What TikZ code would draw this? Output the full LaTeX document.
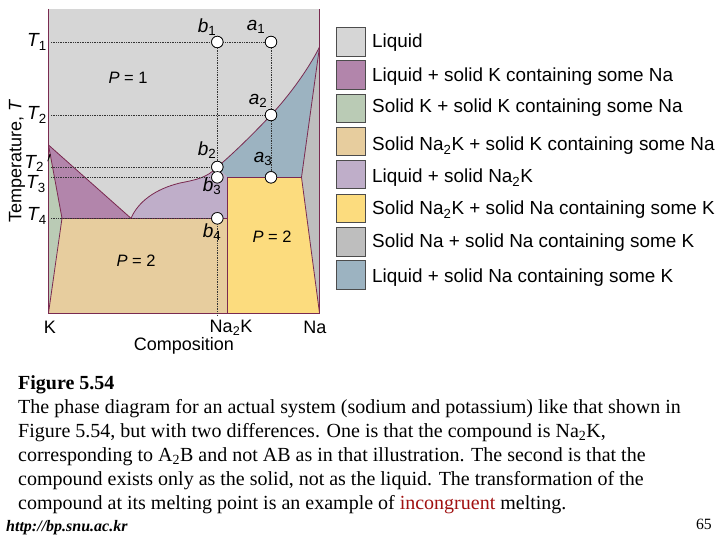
\documentclass[tikz,border=0pt]{standalone}
\usepackage{fontspec}
\setmainfont{Liberation Serif}
\newfontfamily\labelfont{Liberation Sans}
\usetikzlibrary{positioning}
\definecolor{liquidc}{HTML}{D6D6D6}
\definecolor{liqkc}{HTML}{B285AB}
\definecolor{solkc}{HTML}{BACBB5}
\definecolor{tanc}{HTML}{E7CD9E}
\definecolor{liqnakc}{HTML}{BFAEC9}
\definecolor{yellowc}{HTML}{FCDC7E}
\definecolor{solnac}{HTML}{BEBEBE}
\definecolor{liqnac}{HTML}{9CB3C1}
\definecolor{phaseline}{HTML}{7A2A50}
\definecolor{redword}{HTML}{A01010}
\tikzset{
	swatch/.style={draw=black!70,line width=0.8pt,rectangle,minimum width=29pt,minimum height=28.5pt,inner sep=0pt},
	legend/.style={anchor=west,inner sep=0pt,font=\labelfont\fontsize{18.9}{20}\selectfont},
	axis/.style={inner sep=0pt,font=\labelfont\fontsize{18}{20}\selectfont},
	count/.style={axis,font=\labelfont\fontsize{16.5}{20}\selectfont},
	temp/.style={axis,font=\labelfont\itshape\fontsize{19}{20}\selectfont},
	pt/.style={draw=black,fill=white,circle,line width=0.7pt,minimum size=11.5pt,inner sep=0pt},
	guide/.style={densely dotted,line width=0.7pt,black!80},
	phase/.style={draw=phaseline,line width=0.8pt}
}
\begin{document}
\begin{tikzpicture}[x=1pt,y=-1pt]
	\useasboundingbox (0,0) rectangle (720,540);
	% regions
	\fill[liquidc] (48.5,9) rectangle (319.5,313);
	\fill[solkc] (48.5,145) -- (62,218) -- (48.5,313) -- cycle;
	\fill[solnac] (319.5,47) -- (301.5,177.3) -- (319.5,313) -- cycle;
	\fill[liqkc] (48.5,145) -- (131,218.3) -- (62,218.3) -- cycle;
	\fill[tanc] (62,218.3) -- (227.7,218.3) -- (227.7,313) -- (48.5,313) -- cycle;
	\fill[yellowc] (227.7,177.3) -- (301.5,177.3) -- (319.5,313) -- (227.7,313) -- cycle;
	\fill[liqnakc] (131,218.3) .. controls (138,202) and (155,189) .. (180,183) .. controls (195,180) and (207,178) .. (217.3,167) -- (227.7,177.3) -- (227.7,218.3) -- cycle;
	\fill[liqnac] (319.5,47) .. controls (308,70) and (288,97) .. (271,115) .. controls (255,132) and (235,152) .. (217.3,167) -- (227.7,177.3) -- (301.5,177.3) -- cycle;
	% phase boundaries
	\draw[phase] (48.5,9) -- (48.5,313) -- (319.5,313) -- (319.5,9);
	\draw[phase] (48.5,145) -- (131,218.3);
	\draw[phase] (48.5,145) -- (62,218.3) -- (48.5,313);
	\draw[phase] (62,218.3) -- (227.7,218.3);
	\draw[phase] (227.7,177.3) -- (227.7,313);
	\draw[phase] (227.7,177.3) -- (301.5,177.3);
	\draw[phase] (319.5,47) -- (301.5,177.3) -- (319.5,313);
	\draw[phase] (131,218.3) .. controls (138,202) and (155,189) .. (180,183) .. controls (195,180) and (207,178) .. (217.3,167);
	\draw[phase] (319.5,47) .. controls (308,70) and (288,97) .. (271,115) .. controls (255,132) and (235,152) .. (217.3,167);
	% temperatures
	\node[temp] (t1) at (37,42) {T\textsubscript{\upshape 1}};
	\node[temp] (t2) at (37,115) {T\textsubscript{\upshape 2}};
	\node[temp] (t2p) at (38,163) {T\textsubscript{\upshape 2}\,$'$};
	\node[temp] (t3) at (36,184) {T\textsubscript{\upshape 3}};
	\node[temp] (t4) at (37,216) {T\textsubscript{\upshape 4}};
	% points
	\node[pt] (b1) at (217.3,42) {};
	\node[pt] (a1) at (271,42) {};
	\node[pt] (a2) at (271,115) {};
	\node[pt] (b2) at (217.3,167) {};
	\node[pt] (b3) at (217.3,177.3) {};
	\node[pt] (a3) at (271,177.3) {};
	\node[pt] (b4) at (217.3,218.3) {};
	\coordinate (c1) at (51,42);
	\coordinate (c2) at (51,115);
	\coordinate (c2p) at (51,167);
	\coordinate (c3) at (51,177.3);
	\coordinate (c4) at (51,218.3);
	\coordinate (foot) at (217.3,316);
	\draw[guide] (c1) -- (b1) -- (a1);
	\draw[guide] (c2) -- (a2);
	\draw[guide] (c2p) -- (b2);
	\draw[guide] (c3) -- (b3);
	\draw[guide] (c4) -- (b4);
	\draw[guide] (b1) -- (b2);
	\draw[guide] (b4) -- (foot);
	\draw[guide] (a1) -- (a2) -- (a3);
	\node[pt] at (b1) {};
	\node[pt] at (a1) {};
	\node[pt] at (a2) {};
	\node[pt] at (b2) {};
	\node[pt] at (b3) {};
	\node[pt] at (a3) {};
	\node[pt] at (b4) {};
	% point labels
	\node[temp] (lb1) at (207,27) {b\textsubscript{\upshape 1}};
	\node[temp] (la1) at (256,27) {a\textsubscript{\upshape 1}};
	\node[temp] (la2) at (258,101) {a\textsubscript{\upshape 2}};
	\node[temp] (lb2) at (207,150) {b\textsubscript{\upshape 2}};
	\node[temp] (la3) at (263,159) {a\textsubscript{\upshape 3}};
	\node[temp] (lb3) at (212,186) {b\textsubscript{\upshape 3}};
	\node[temp] (lb4) at (212,232) {b\textsubscript{\upshape 4}};
	% phase counts
	\node[count] (p1) at (128,78) {\textit{P} = 1};
	\node[count] (p2a) at (136,261) {\textit{P} = 2};
	\node[count] (p2b) at (272,237) {\textit{P} = 2};
	% axes
	\node[axis,rotate=90] (ylab) at (17,161) {Temperature, \textit{T}};
	\node[axis] (k) at (50,327) {K};
	\node[axis] (nak) at (231,327.5) {Na\textsubscript{2}K};
	\node[axis] (na) at (315,327) {Na};
	\node[axis] (comp) at (184,346) {Composition};
	% legend
	\node[swatch,fill=liquidc] (s1) at (350.5,41.7) {};
	\node[swatch,fill=liqkc] (s2) at (350.5,75) {};
	\node[swatch,fill=solkc] (s3) at (350.5,108.5) {};
	\node[swatch,fill=tanc] (s4) at (350.5,141.5) {};
	\node[swatch,fill=liqnakc] (s5) at (350.5,174.5) {};
	\node[swatch,fill=yellowc] (s6) at (350.5,208.5) {};
	\node[swatch,fill=solnac] (s7) at (350.5,242) {};
	\node[swatch,fill=liqnac] (s8) at (350.5,275) {};
	\node[legend] (l1) at (372,43) {Liquid};
	\node[legend] (l2) at (372,77) {Liquid + solid K containing some Na};
	\node[legend] (l3) at (372,108) {Solid K + solid K containing some Na};
	\node[legend] (l4) at (372,146) {Solid Na\textsubscript{2}K + solid K containing some Na};
	\node[legend] (l5) at (372,178) {Liquid + solid Na\textsubscript{2}K};
	\node[legend] (l6) at (372,210) {Solid Na\textsubscript{2}K + solid Na containing some K};
	\node[legend] (l7) at (372,243) {Solid Na + solid Na containing some K};
	\node[legend] (l8) at (372,278) {Liquid + solid Na containing some K};
	% caption
	\node[anchor=north west,inner sep=0pt,align=left,font=\fontsize{20}{24}\selectfont] (caption) at (18,375) {\textbf{Figure 5.54}\\
		The phase diagram for an actual system (sodium and potassium) like that shown in\\
		Figure 5.54, but with two differences. One is that the compound is Na\textsubscript{2}K,\\
		corresponding to A\textsubscript{2}B and not AB as in that illustration. The second is that the\\
		compound exists only as the solid, not as the liquid. The transformation of the\\
		compound at its melting point is an example of \textcolor{redword}{incongruent} melting.};
	\node[anchor=west,inner sep=0pt,font=\bfseries\itshape\fontsize{16}{18}\selectfont] (url) at (6,528) {http://bp.snu.ac.kr};
	\node[anchor=east,inner sep=0pt,font=\fontsize{15.7}{18}\selectfont] (page) at (712,524) {65};
\end{tikzpicture}
\end{document}
